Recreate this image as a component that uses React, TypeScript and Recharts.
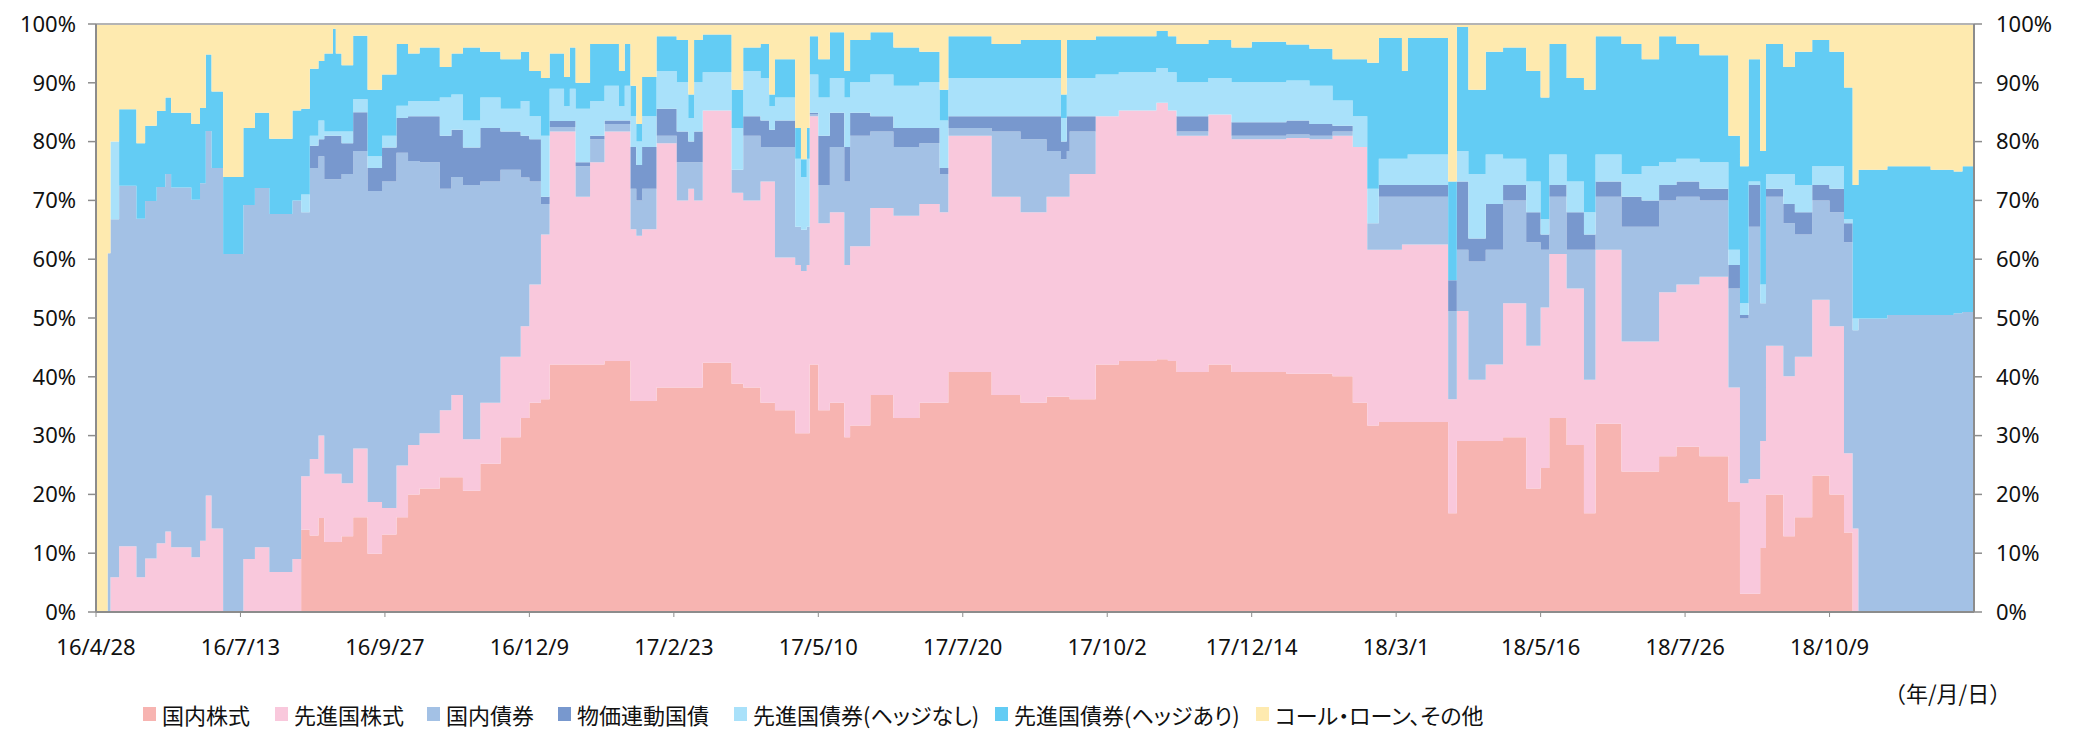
import React from 'react';
import { AreaChart, Area, XAxis, YAxis, ReferenceLine } from 'recharts';

// business-day index of each change point (0 = 16/4/28)
const dayIndex = [0,4,5,8,14,17,21,24,26,33,
 36,38,40,44,51,55,60,68,71,74,
 77,79,82,83,85,89,94,99,104,108,
 112,119,123,127,133,140,147,150,154,157,
 162,164,166,171,176,181,183,185,187,189,
 194,201,205,207,210,220,224,230,233,235,
 242,244,246,247,250,254,259,261,268,276,
 285,292,295,310,320,329,334,336,337,346,
 354,367,371,374,385,393,400,412,420,428,
 435,440,444,452,454,468,471,475,481,487,
 495,500,503,509,515,519,528,535,541,547,
 555,565,569,572,576,578,584,588,594,600,
 605,608,610,620,635,643,646,650];

const domesticEquity = [0,0,0,0,0,0,0,0,0,0,
 0,0,0,0,0,0,0,0,14,13,
 16,11.9,11.9,11.9,12.9,16.1,9.9,13.2,16.1,20,
 21,22.9,22.9,20.6,25.2,29.7,33,35.6,36.2,42.1,
 42.1,42.1,42.1,42.1,42.7,42.7,42.7,35.9,35.9,35.9,
 38.2,38.2,38.2,38.2,42.4,38.8,38.2,35.6,35.6,34.3,
 30.4,30.4,30.4,42.1,34.3,35.6,29.7,31.7,36.9,33,
 35.6,35.6,40.8,36.9,35.6,36.6,36.6,36.6,36.2,42.1,
 42.7,43,42.7,40.8,42.1,40.8,40.8,40.5,40.5,40.1,
 35.6,31.7,32.3,32.3,32.3,16.8,29.1,29.1,29.1,29.7,
 21,24.5,33,28.4,16.8,32,23.9,23.9,26.5,28.1,
 26.5,18.7,3.1,3.1,10.9,20,12.9,16.1,23.2,20,
 13.5,0,0,0,0,0,0,0];

const foreignEquity = [0,0,5.9,11.2,5.9,9.1,11.7,13.7,11,9.3,
 12.1,19.8,14.2,0,9,11,6.8,9,9.1,13,
 14,11.6,11.6,11.6,9,11.7,8.8,4.5,8.8,8.4,
 9.4,11.4,14,8.8,10.4,13.7,15.6,20.1,28,39.6,
 39.6,39.6,28.5,34.4,39,39,39,29.2,28.1,29.2,
 41.5,31.8,33.8,31.8,42.9,32.5,31.8,37.6,37.6,26,
 28.6,27.6,28.6,42.2,31.8,32.4,29.3,30.5,31.8,34.4,
 33.8,32.4,40.2,33.7,32.4,34,34,34,38.3,42.2,
 42.6,43.6,42.6,40.2,42.5,39.6,39.6,40.1,39.9,40.9,
 43.5,29.9,29.3,30.2,30.2,19.4,22.1,10.4,13,22.8,
 24.3,27.3,27.9,26.6,22.7,29.6,22.1,22.1,27.9,27.6,
 30.5,19.5,18.8,19.5,18.2,25.3,27.2,27.3,29.9,28.6,
 13.5,14.2,0,0,0,0,0,0];

const domesticBond = [0,61,60.9,61.3,61,60.8,60.6,60.8,61.2,60.8,
 60.8,62,61.3,60.9,60.2,61.1,60.9,61,44.9,49.5,
 47.5,50.1,50.1,50.1,52.6,50.6,52.9,55.5,53.2,48.3,
 46.1,37.7,37.1,43.2,37.6,31.8,25.3,17.5,5.2,0.8,
 0.8,0.8,5.2,3.9,1.3,1.3,1.3,6.9,6,6.9,
 1.3,6.5,4.5,6.5,0,3.9,11,5.9,5.9,18.8,
 6.5,7,6.5,0.3,6.5,11.1,14.2,18.8,13,11.7,
 10.3,6.5,1.3,11.1,12.4,7.8,6.4,7.8,7.2,0,
 0,0,0,0.7,0,0.6,0.6,0.6,0.6,0.7,
 0,4.5,9,8.1,8.1,15,10.4,20.1,19.5,17.5,
 17.6,9.8,9.7,6.6,22.1,9,19.5,19.5,15.6,14.9,
 13,16.8,28,42.9,23.4,25.3,26,20.8,16.9,19.4,
 35.9,33.7,49.9,50.5,50.5,50.8,51,51];

const inflationLinked = [0,0,0,0,0,0,0,0,0,0,
 0,0,0,0,0,0,0,0,0,3.8,
 2.9,7.4,7.4,7.4,5.2,6.6,3.9,5.8,5.9,7.6,
 7.8,9,8,6.4,9.1,6.5,7.1,7.2,1.2,1,
 1,1,0.7,0.6,0.6,0.6,0.6,7.1,6,7.1,
 4.6,5.2,3.5,5.2,0,0,3.3,4.5,2.9,4.5,
 0,0,0,0.3,8.4,5.8,5.9,3.9,2.6,3.2,
 2.6,1,2,2.6,3.9,5.9,3,5.9,2.6,0,
 0,0,0,2.6,0,2.3,2.3,2.4,2,1,
 0,0,2,2,2,5.2,11.6,3.9,7.8,2.6,
 5.1,2.6,2,6.4,2.6,2.6,5.1,4.5,2.6,2.6,
 2,4,0.6,7.1,0,1.4,3.3,3.8,2.6,4,
 3.2,0,0,0,0,0,0,0];

const foreignBondUnhedged = [0,0,13.2,0,0,0,0,0,0,0,
 0,0,0,0,0,0,0,0,3,1.7,
 3.2,0.7,0.7,0.7,2,2.2,2,2,2.1,2.6,
 2.6,6.5,6,4.6,5.2,3.9,5.9,3.9,10.4,5.5,
 2.5,5.5,9.1,5.9,5.9,2.4,5.9,5.2,4,5.2,
 6.4,8.4,4,8.4,6.5,7.1,7.7,7.2,4,3.9,
 11.6,9,11.6,6.5,6.5,5.9,8.4,5.2,7.1,7.2,
 7.8,8.1,6.5,6.5,6.5,6.5,4,6.5,6.5,7.1,
 6.5,5.9,6.5,5.8,6.2,6.8,6.8,6.8,6.5,4.3,
 5.2,5.9,4.5,4.5,5.2,0,5.2,11,8.4,4.5,
 5.2,2.6,5.2,5.2,3.8,4.6,3.9,5.8,3.9,3.9,
 4.5,2.6,2,0.6,3.2,2.5,5.1,4.6,3.2,3.8,
 0.7,2,0,0,0,0,0,0];

const foreignBondHedged = [0,0,0,13,12.8,12.8,12.9,13,12.7,12.9,
 12.8,13,13,13.1,13.1,12.8,12.8,15.3,14.6,11.4,
 10.1,13.3,17.5,13.3,11.3,10.8,11.3,10.4,10.5,8.1,
 9.1,5.2,7,12.4,7.8,8.4,8.4,7.7,9.8,6,
 5,7,4.4,9.7,7.1,6,7.1,5.2,3,6.7,
 5.9,7.2,4,7.2,6.4,6.5,4,5.8,2,6.5,
 5.2,3,5.2,6.5,6.5,7.8,4.5,7.2,7.2,6.5,
 5.2,5.2,7.1,5.8,6.5,6.5,4,6.5,6.5,6.5,
 6.1,6.3,6.1,6.5,6.5,5.9,6.9,6.1,6.3,7,
 9.7,21.4,20.5,14.9,19.8,16.8,21.1,14.3,17.5,18.9,
 18.8,20.7,18.8,17.6,20.8,20.1,22.1,18.2,21.4,19.5,
 18.2,19.4,23.3,20.8,22.7,22.1,18.2,22.7,21.5,19.5,
 22.4,22.7,25.3,25.3,24.7,24.1,24.8,24.8];

const callLoanOther = [100,39,20,14.5,20.3,17.3,14.8,12.5,15.1,17,
 14.3,5.2,11.5,26,17.7,15.1,19.5,14.7,14.4,7.6,
 6.3,5,0.8,5,7,2,11.2,8.6,3.4,5,
 4,7.3,5,4,4.7,6,4.7,8,9.2,5,
 9,4,10,3.4,3.4,8,3.4,10.5,17,9,
 2.1,2.7,12,2.7,1.8,11.2,4,3.4,12,6,
 17.7,23,17.7,2.1,6,1.4,8,2.7,1.4,4,
 4.7,11.2,2.1,3.4,2.7,2.7,12,2.7,2.7,2.1,
 2.1,1.2,2.1,3.4,2.7,4,3,3.5,4.2,6,
 6,6.6,2.4,8,2.4,26.8,0.5,11.2,4.7,4,
 8,12.5,3.4,9.2,11.2,2.1,3.4,6,2.1,3.4,
 5.3,19,24.2,6,21.6,3.4,7.3,4.7,2.7,4.7,
 10.8,27.4,24.8,24.2,24.8,25.1,24.2,24.2];

const tickPositions = [0, 50, 100, 150, 200, 250, 300, 350, 400, 450, 500, 550, 600];
const tickLabels = ['16/4/28', '16/7/13', '16/9/27', '16/12/9', '17/2/23', '17/5/10', '17/7/20',
  '17/10/2', '17/12/14', '18/3/1', '18/5/16', '18/7/26', '18/10/9'];
const yTicks = [0, 10, 20, 30, 40, 50, 60, 70, 80, 90, 100];

const seriesNames = ['国内株式', '先進国株式', '国内債券', '物価連動国債',
  '先進国債券(ヘッジなし)', '先進国債券(ヘッジあり)', 'コール・ローン、その他'];
const seriesColors = ['#F7B4B1', '#F9C8DC', '#A3C1E5', '#7898CE', '#A9E1FA', '#63CCF4', '#FEEAAF'];
const seriesValues = [domesticEquity, foreignEquity, domesticBond, inflationLinked,
  foreignBondUnhedged, foreignBondHedged, callLoanOther];
const legendLefts = [143, 275, 427, 558, 734, 995, 1256];

const data = dayIndex.map((d, k) => {
  const row: Record<string, number> = { idx: d };
  seriesValues.forEach((arr, s) => { row['s' + s] = arr[k]; });
  return row;
});

const AXIS = '#8c8c8c';
const tickFont = { fill: '#111', fontSize: 22, fontFamily: 'Noto Sans, sans-serif' };
const cjkFont = '"Noto Sans CJK JP", sans-serif';

export default function App() {
  return (
    <div style={{ position: 'absolute', left: 0, top: 0, width: 2080, height: 730, background: '#fff' }}>
      <AreaChart width={2080} height={730} data={data} margin={{ top: 24, right: 0, bottom: 78, left: 0 }}>
        <XAxis
          type="number"
          dataKey="idx"
          domain={[0, 650]}
          ticks={tickPositions}
          interval={0}
          allowDataOverflow
          tickFormatter={(v: number) => tickLabels[tickPositions.indexOf(v)] ?? ''}
          height={40}
          tickSize={5}
          tickMargin={22}
          axisLine={{ stroke: AXIS, strokeWidth: 2 }}
          tickLine={{ stroke: AXIS }}
          tick={tickFont}
        />
        <YAxis
          yAxisId="left"
          domain={[0, 100]}
          ticks={yTicks}
          allowDataOverflow
          width={96}
          tickSize={8}
          tickMargin={12}
          tickFormatter={(v: number) => v + '%'}
          axisLine={{ stroke: AXIS, strokeWidth: 2 }}
          tickLine={{ stroke: AXIS, strokeWidth: 1.5 }}
          tick={tickFont}
        />
        <YAxis
          yAxisId="right"
          orientation="right"
          domain={[0, 100]}
          ticks={yTicks}
          allowDataOverflow
          width={106}
          tickSize={8}
          tickMargin={14}
          tickFormatter={(v: number) => v + '%'}
          axisLine={{ stroke: AXIS, strokeWidth: 2 }}
          tickLine={{ stroke: AXIS, strokeWidth: 1.5 }}
          tick={{ ...tickFont, textAnchor: 'start' }}
        />
        {seriesNames.map((name, s) => (
          <Area
            key={name}
            yAxisId="left"
            type="stepAfter"
            dataKey={'s' + s}
            name={name}
            stackId="a"
            fill={seriesColors[s]}
            fillOpacity={1}
            stroke="none"
            dot={false}
            activeDot={false}
            isAnimationActive={false}
          />
        ))}
        <ReferenceLine yAxisId="left" y={100} stroke="#b4b4b4" strokeWidth={2} />
      </AreaChart>
      {seriesNames.map((name, s) => (
        <div key={name} style={{ position: 'absolute', left: legendLefts[s], top: 698, display: 'flex', alignItems: 'center', whiteSpace: 'nowrap', fontFamily: cjkFont, fontSize: 22, lineHeight: 'normal', color: '#111', fontFeatureSettings: '"palt"' }}>
          <span style={{ display: 'inline-block', width: 13, height: 14, background: seriesColors[s], marginRight: 6, flex: 'none' }} />
          <span>{name}</span>
        </div>
      ))}
      <div style={{ position: 'absolute', left: 1884, top: 676, whiteSpace: 'nowrap', fontFamily: cjkFont, fontSize: 22, lineHeight: 'normal', color: '#111' }}>
        （年/月/日）
      </div>
    </div>
  );
}
